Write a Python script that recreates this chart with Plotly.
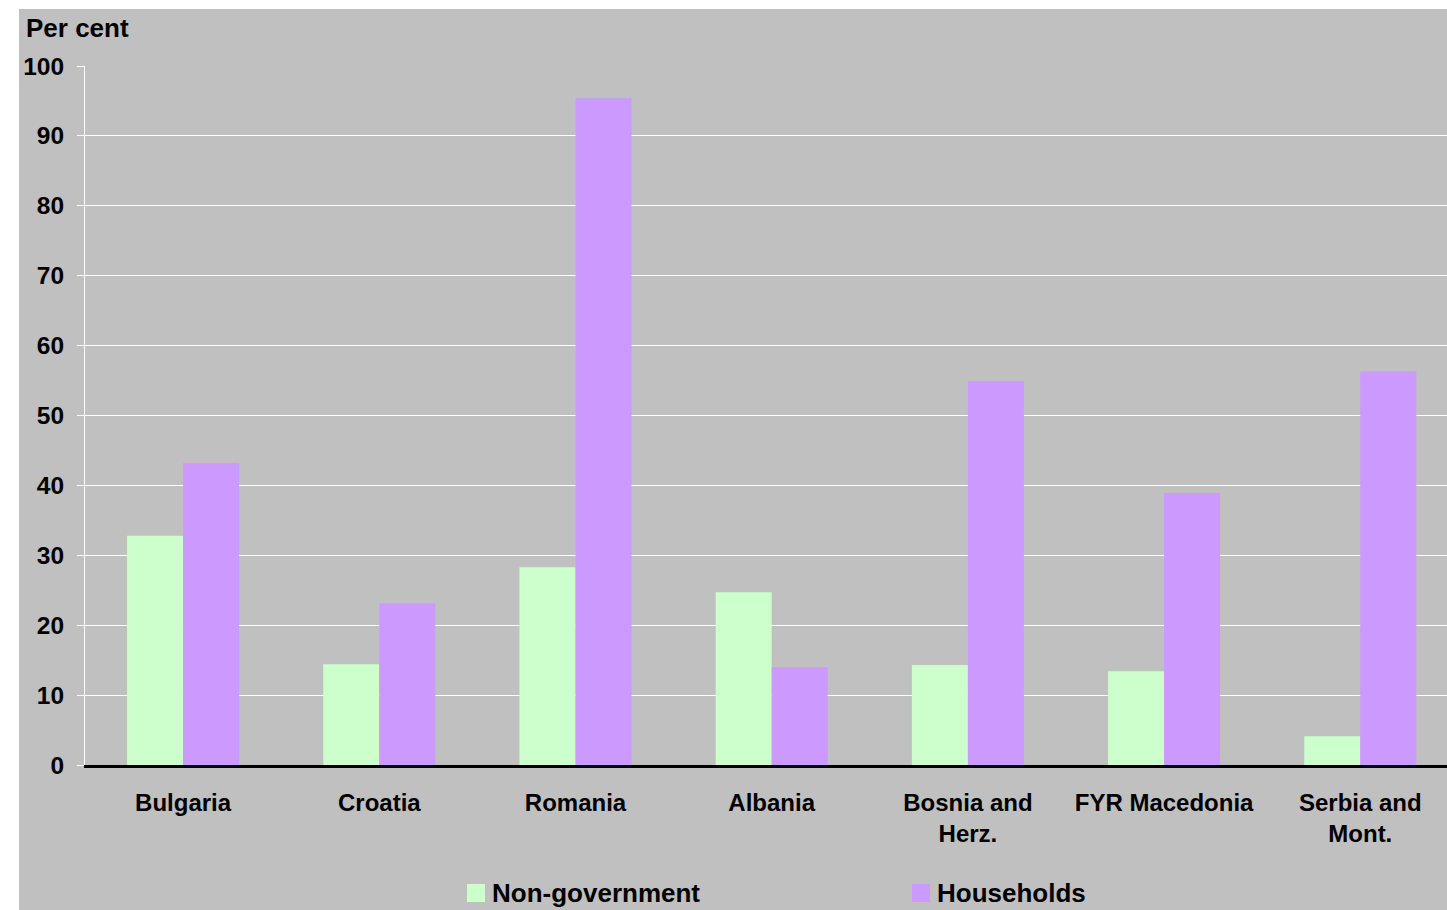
import plotly.graph_objects as go

# Data
countries = ["Bulgaria", "Croatia", "Romania", "Albania",
             "Bosnia and<br>Herz.", "FYR Macedonia", "Serbia and<br>Mont."]
non_government = [32.8, 14.4, 28.3, 24.7, 14.3, 13.4, 4.1]
households = [43.2, 23.1, 95.4, 14.0, 54.9, 38.9, 56.3]
series_names = ["Non-government", "Households"]
y_ticks = [0, 10, 20, 30, 40, 50, 60, 70, 80, 90, 100]

GREEN = "#CCFFCC"
PURPLE = "#CC99FF"
GREY = "#C0C0C0"
FONT = "Liberation Sans, Arial, sans-serif"

W, H = 1447, 910
L, R, T, B = 85, 0, 66, 145
PW, PH = W - L - R, H - T - B
CAT_W = 196.2  # pixel width of one category slot; the last slot runs off the right edge


def px_x(x):
    return (x - L) / PW


def px_y(y):
    return (H - B - y) / PH


fig = go.Figure()
fig.add_trace(go.Bar(x=countries, y=non_government, name=series_names[0],
                     marker=dict(color=GREEN, line=dict(width=0)),
                     showlegend=False))
fig.add_trace(go.Bar(x=countries, y=households, name=series_names[1],
                     marker=dict(color=PURPLE, line=dict(width=0)),
                     showlegend=False))

# grey panel behind everything (white strip on the left and top)
shapes = [dict(type="rect", xref="paper", yref="paper",
               x0=px_x(19), x1=px_x(W + 5), y0=px_y(9), y1=px_y(H + 5),
               fillcolor=GREY, line=dict(width=0), layer="below")]

annotations = [dict(text="<b>Per cent</b>", xref="paper", yref="paper",
                    x=px_x(24), y=px_y(28), xanchor="left", yanchor="middle",
                    showarrow=False, font=dict(family=FONT, size=26, color="black"))]

# legend: coloured square + label for each series
legend_items = [(series_names[0], GREEN, 467), (series_names[1], PURPLE, 912)]
for name, color, x0 in legend_items:
    shapes.append(dict(type="rect", xref="paper", yref="paper",
                       x0=px_x(x0), x1=px_x(x0 + 18), y0=px_y(902), y1=px_y(884),
                       fillcolor=color, line=dict(width=0), layer="above"))
    annotations.append(dict(text=f"<b>{name}</b>", xref="paper", yref="paper",
                            x=px_x(x0 + 23), y=px_y(893), xanchor="left",
                            yanchor="middle", showarrow=False,
                            font=dict(family=FONT, size=26, color="black")))

fig.update_layout(
    width=W, height=H,
    margin=dict(l=L, r=R, t=T, b=B, pad=0),
    paper_bgcolor="white",
    plot_bgcolor=GREY,
    barmode="group",
    bargap=0.429,
    bargroupgap=0,
    showlegend=False,
    shapes=shapes,
    annotations=annotations,
    font=dict(family=FONT, color="black"),
)

fig.update_xaxes(
    range=[-0.5, -0.5 + PW / CAT_W],
    showgrid=False, zeroline=False,
    showline=True, linecolor="black", linewidth=2.5,
    ticks="", ticklabelstandoff=14,
    tickfont=dict(family=FONT, size=24, color="black", weight="bold"),
)

fig.update_yaxes(
    range=[0, 100], tickvals=y_ticks,
    showgrid=True, gridcolor="white", gridwidth=1,
    zeroline=False,
    showline=True, linecolor="white", linewidth=1,
    ticks="outside", tickcolor="white", ticklen=7, tickwidth=1,
    ticklabelstandoff=8,
    tickfont=dict(family=FONT, size=24.5, color="black", weight="bold"),
)

fig.write_html("out.html")
